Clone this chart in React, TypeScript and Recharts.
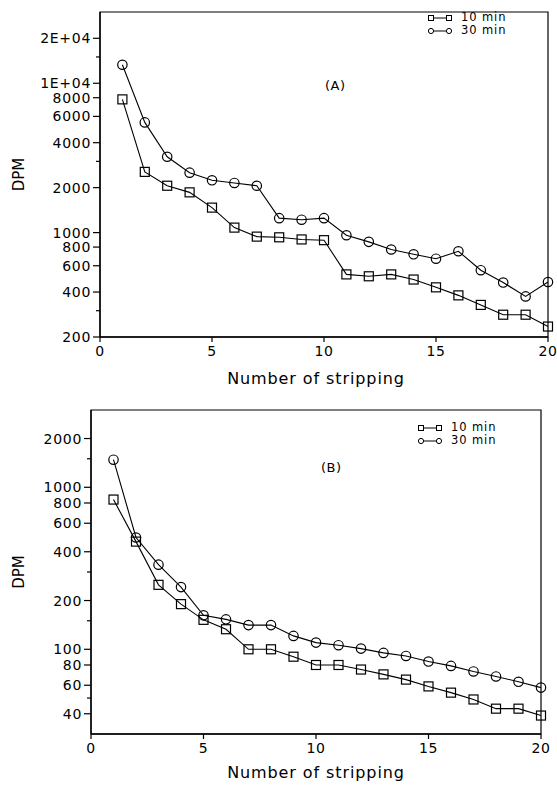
import React from "react";
import { LineChart, Line, XAxis, YAxis, ReferenceArea, Label } from "recharts";

const FONT = "'DejaVu Sans', sans-serif";

// number of stripping (x)
const strips = [1, 2, 3, 4, 5, 6, 7, 8, 9, 10, 11, 12, 13, 14, 15, 16, 17, 18, 19, 20];

// panel A
const dpmA10 = [7800, 2550, 2060, 1860, 1470, 1080, 940, 930, 900, 890, 525, 510, 525, 485, 430, 380, 328, 282, 282, 235];
const dpmA30 = [13300, 5470, 3220, 2520, 2240, 2150, 2060, 1250, 1220, 1250, 960, 867, 771, 716, 669, 750, 560, 463, 374, 467];

// panel B
const dpmB10 = [840, 462, 250, 190, 152, 133, 100, 100, 90, 80, 80, 75, 70, 65, 59, 54, 49, 43, 43, 39];
const dpmB30 = [1480, 490, 333, 242, 162, 153, 141, 141, 121, 110, 106, 101, 95, 91, 84, 79, 73, 68, 63, 58];

const xTicks = [0, 5, 10, 15, 20];
const yTicksA = [200, 400, 600, 800, 1000, 2000, 4000, 6000, 8000, 10000, 20000];
const yMinorA = [300, 3000, 15000];
const yTicksB = [40, 60, 80, 100, 200, 400, 600, 800, 1000, 2000];
const yMinorB = [50, 150, 300, 1500];

const fmtY = (v: number) => (v >= 10000 ? `${v / 10000}E+04` : String(v));

const SquareDot = (props: any) => {
  const { cx, cy, index } = props;
  if (cx == null || cy == null) return <g key={index} />;
  return <rect key={index} x={cx - 4.5} y={cy - 4.5} width={9} height={9} fill="none" stroke="#000" strokeWidth={1.2} />;
};

const CircleDot = (props: any) => {
  const { cx, cy, index } = props;
  if (cx == null || cy == null) return <g key={index} />;
  return <circle key={index} cx={cx} cy={cy} r={4.7} fill="none" stroke="#000" strokeWidth={1.2} />;
};

function makeYTick(minor: number[]) {
  return (props: any) => {
    const { x, y, payload } = props;
    const v = payload.value;
    const isMinor = minor.includes(v);
    return (
      <g>
        <line x1={x - (isMinor ? 4 : 7)} x2={x} y1={y} y2={y} stroke="#000" strokeWidth={1.2} />
        {!isMinor && (
          <text x={x - 9} y={y} textAnchor="end" dominantBaseline="central" fontSize={14} letterSpacing={0.7} fontFamily={FONT} fill="#000">
            {fmtY(v)}
          </text>
        )}
      </g>
    );
  };
}

function LegendBox({ left, top }: { left: number; top: number }) {
  const row = (shape: "sq" | "ci", text: string) => (
    <div style={{ display: "flex", alignItems: "center", height: 13 }}>
      <svg width={24} height={10} style={{ marginRight: 9 }}>
        <line x1={3} x2={21} y1={5} y2={5} stroke="#000" strokeWidth={1} />
        {shape === "sq" ? (
          <>
            <rect x={0.5} y={2.5} width={5} height={5} fill="#fff" stroke="#000" strokeWidth={1} />
            <rect x={18.5} y={2.5} width={5} height={5} fill="#fff" stroke="#000" strokeWidth={1} />
          </>
        ) : (
          <>
            <circle cx={3} cy={5} r={2.6} fill="#fff" stroke="#000" strokeWidth={1} />
            <circle cx={21} cy={5} r={2.6} fill="#fff" stroke="#000" strokeWidth={1} />
          </>
        )}
      </svg>
      <span style={{ fontSize: 11.5, letterSpacing: 0.9, lineHeight: "13px" }}>{text}</span>
    </div>
  );
  return (
    <div style={{ position: "absolute", left, top, fontFamily: FONT, color: "#000" }}>
      {row("sq", "10 min")}
      {row("ci", "30 min")}
    </div>
  );
}

function Panel({
  d10,
  d30,
  yDomain,
  yTicks,
  yMinor,
  margin,
  yWidth,
  xHeight,
  tag,
  tagPos,
  legendPos,
  xLabelOffset,
  xLabelDx,
}: {
  d10: number[];
  d30: number[];
  yDomain: [number, number];
  yTicks: number[];
  yMinor: number[];
  margin: { top: number; right: number; left: number; bottom: number };
  yWidth: number;
  xHeight: number;
  tag: string;
  tagPos: { left: number; top: number };
  legendPos: { left: number; top: number };
  xLabelOffset: number;
  xLabelDx: number;
}) {
  const data = strips.map((s, i) => ({ strip: s, m10: d10[i], m30: d30[i] }));
  const ticks = [...yTicks, ...yMinor].sort((a, b) => a - b);
  return (
    <div style={{ position: "relative", width: 557, height: 396 }}>
      <LineChart width={557} height={396} data={data} margin={margin}>
        <XAxis
          dataKey="strip"
          type="number"
          domain={[0, 20]}
          ticks={xTicks}
          interval={0}
          height={xHeight}
          tickSize={5}
          tickMargin={4}
          stroke="#000"
          axisLine={{ stroke: "#000", strokeWidth: 1.3 }}
          tickLine={{ stroke: "#000", strokeWidth: 1.2 }}
          tick={{ fill: "#000", fontSize: 14, fontFamily: FONT, letterSpacing: 0.7 }}
        >
          <Label
            value="Number of stripping"
            position="insideBottom"
            offset={xLabelOffset}
            dx={xLabelDx}
            style={{ fontSize: 16, fontFamily: FONT, fill: "#000", letterSpacing: 0.9 }}
          />
        </XAxis>
        <YAxis
          type="number"
          scale="log"
          domain={yDomain}
          allowDataOverflow
          ticks={ticks}
          interval={0}
          width={yWidth}
          tickSize={0}
          tickMargin={0}
          tickLine={false}
          axisLine={{ stroke: "#000", strokeWidth: 1.3 }}
          tick={makeYTick(yMinor)}
        >
          <Label
            value="DPM"
            angle={-90}
            position="insideLeft"
            offset={19}
            style={{ fontSize: 15, fontFamily: FONT, fill: "#000", textAnchor: "middle" }}
          />
        </YAxis>
        <ReferenceArea x1={0} x2={20} y1={yDomain[0]} y2={yDomain[1]} fill="none" stroke="#000" strokeWidth={1.2} />
        <Line type="linear" dataKey="m10" stroke="#000" strokeWidth={1.1} dot={SquareDot} activeDot={false} isAnimationActive={false} />
        <Line type="linear" dataKey="m30" stroke="#000" strokeWidth={1.1} dot={CircleDot} activeDot={false} isAnimationActive={false} />
      </LineChart>
      <LegendBox left={legendPos.left} top={legendPos.top} />
      <div style={{ position: "absolute", left: tagPos.left, top: tagPos.top, fontFamily: FONT, fontSize: 13, letterSpacing: 0.5 }}>{tag}</div>
    </div>
  );
}

export default function App() {
  return (
    <div style={{ position: "absolute", left: 0, top: 0, width: 557, height: 792, background: "#fff" }}>
      <Panel
        d10={dpmA10}
        d30={dpmA30}
        yDomain={[200, 30000]}
        yTicks={yTicksA}
        yMinor={yMinorA}
        margin={{ top: 12, right: 9, left: 0, bottom: 0 }}
        yWidth={100}
        xHeight={59}
        tag="(A)"
        tagPos={{ left: 325, top: 78 }}
        legendPos={{ left: 428, top: 11 }}
        xLabelOffset={12}
        xLabelDx={-8}
      />
      <Panel
        d10={dpmB10}
        d30={dpmB30}
        yDomain={[30, 3000]}
        yTicks={yTicksB}
        yMinor={yMinorB}
        margin={{ top: 14, right: 16, left: 0, bottom: 0 }}
        yWidth={91}
        xHeight={58}
        tag="(B)"
        tagPos={{ left: 321, top: 64 }}
        legendPos={{ left: 418, top: 25 }}
        xLabelOffset={14}
        xLabelDx={0}
      />
    </div>
  );
}
